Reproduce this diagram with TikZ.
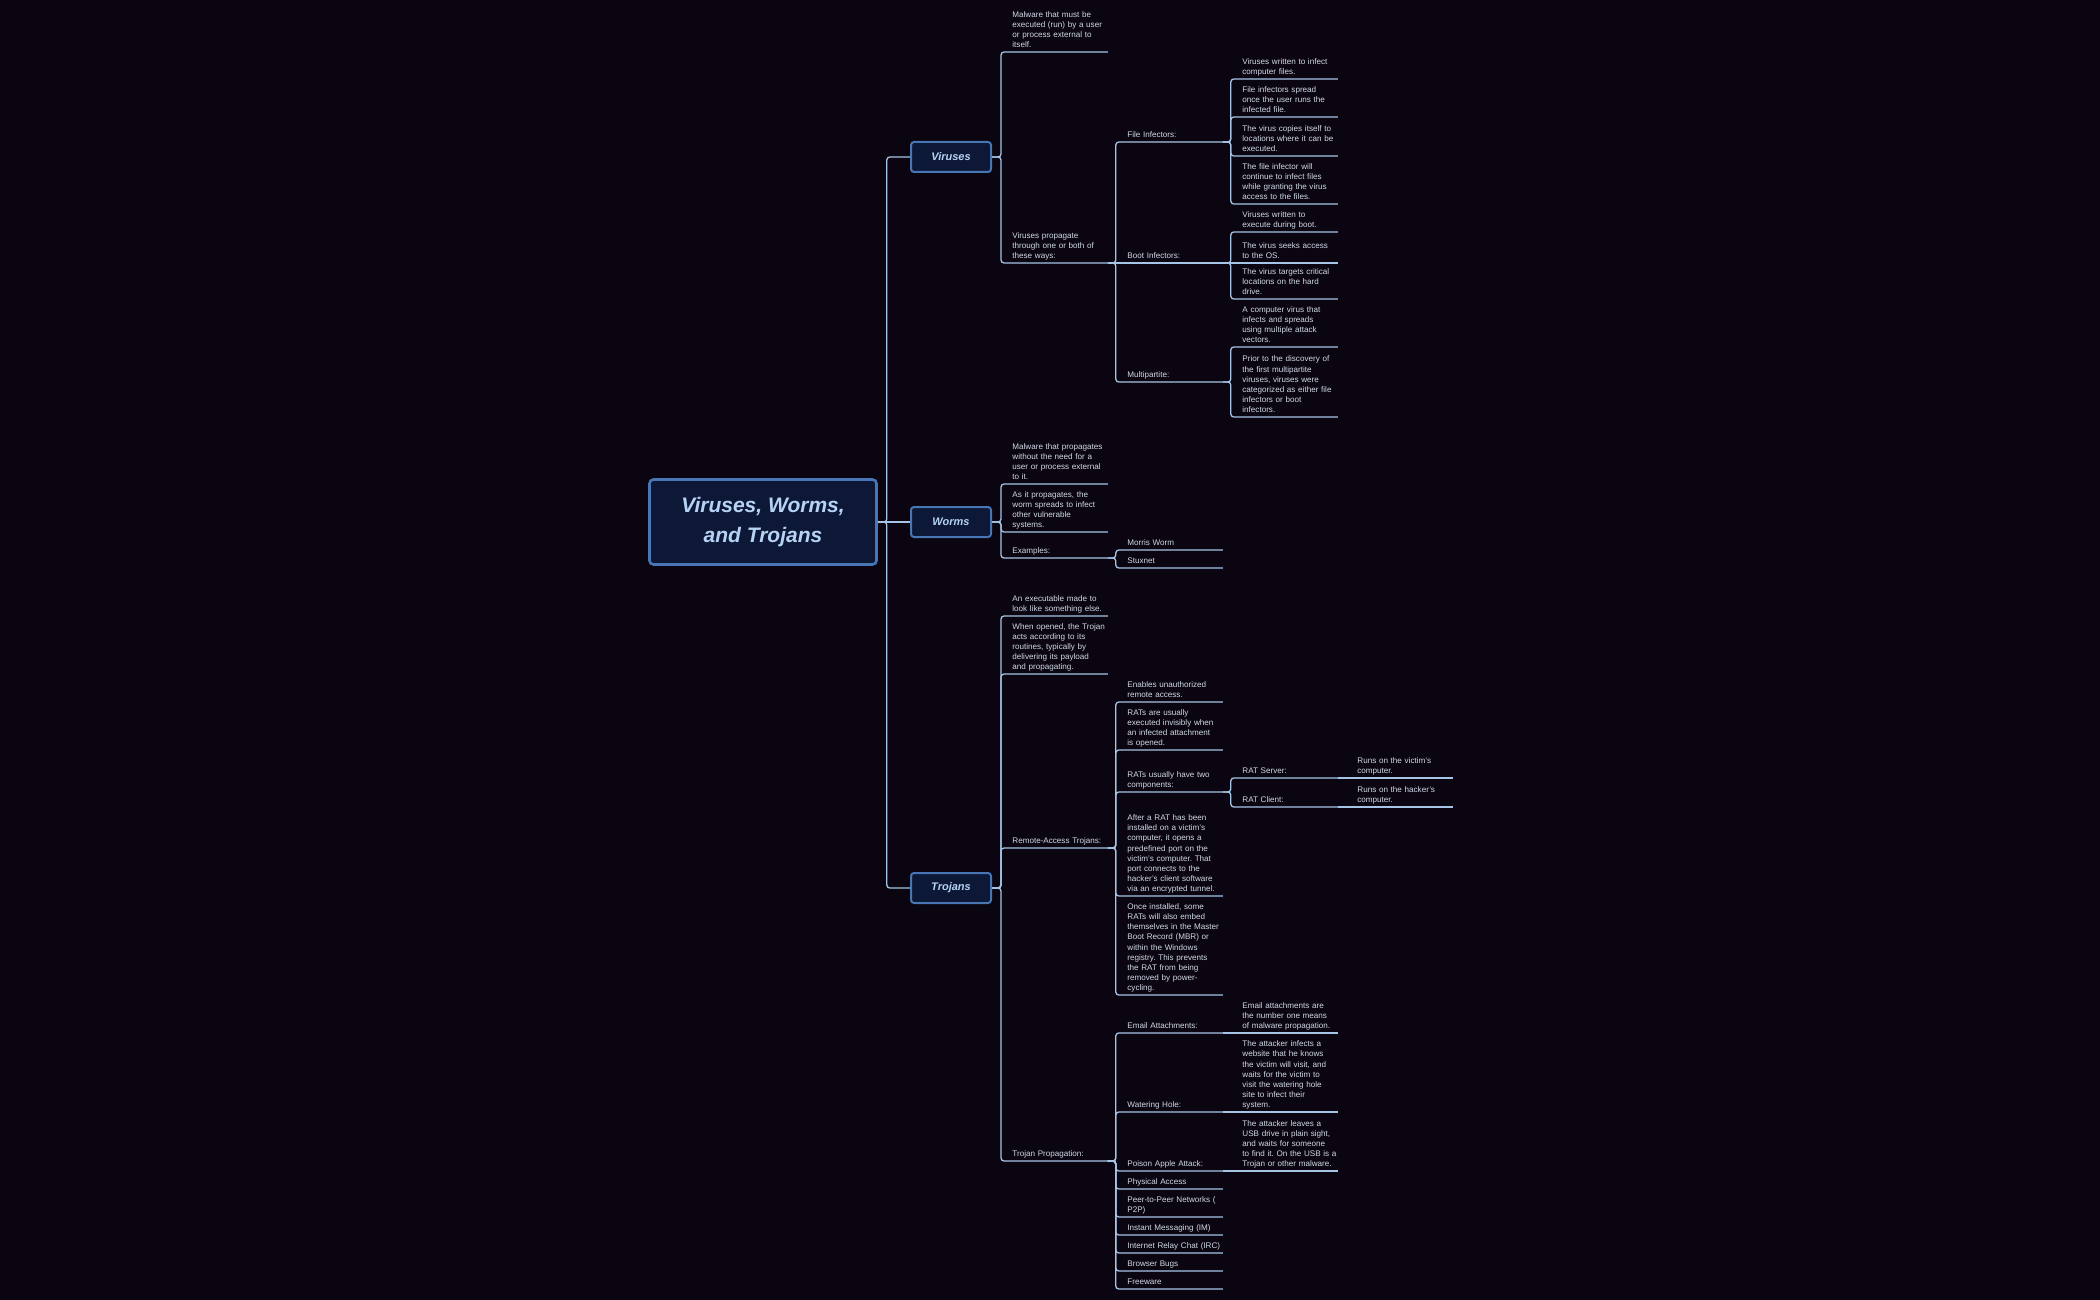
\documentclass[tikz,border=0pt]{standalone}
\usepackage{fontspec}
\setmainfont{Liberation Sans}
\usepackage{tikz}
\usetikzlibrary{positioning}
\definecolor{nightbg}{RGB}{10,5,16}
\definecolor{boxfill}{RGB}{13,23,54}
\definecolor{boxedge}{RGB}{72,118,180}
\definecolor{linkblue}{RGB}{166,196,230}
\definecolor{titleblue}{RGB}{182,211,245}
\definecolor{notetext}{RGB}{210,218,232}
\frenchspacing

\begin{document}
\begin{tikzpicture}[x=0.5pt, y=-0.5pt,
  every node/.style={font=\fontsize{4.05}{5.1}\selectfont, text=notetext},
  topic/.style={draw=boxedge, fill=boxfill, line width=1.3pt, rounded corners=2pt,
                minimum width=113.5pt, minimum height=42.5pt, align=center, text=titleblue,
                font=\fontsize{10.5}{15}\selectfont\bfseries\itshape},
  branch/.style={draw=boxedge, fill=boxfill, line width=1pt, rounded corners=1.5pt,
                 minimum width=40pt, minimum height=15pt, text=titleblue,
                 font=\fontsize{5.5}{6.5}\selectfont\bfseries\itshape},
  note/.style={anchor=south west, inner xsep=0pt, inner ysep=0.3pt,
               text width=47.5pt, align=left, execute at end node=\strut},
  link/.style={draw=linkblue, line width=0.65pt, rounded corners=1.5pt}
]
\fill[nightbg] (0,0) rectangle (2100,1300);

\node[topic] (root) at (763,522) {Viruses, Worms,\\and Trojans};
\node[branch] (viruses) at (951,157) {Viruses};
\node[branch] (worms) at (951,522) {Worms};
\node[branch] (trojans) at (951,888) {Trojans};

\node[note] (v1) at (1012,52) {Malware that must be\\executed (run) by a user\\or process external to\\itself.};
\node[note] (v2) at (1012,263) {Viruses propagate\\through one or both of\\these ways:};
\node[note] (fi) at (1127,142) {File Infectors:};
\node[note] (bi) at (1127,263) {Boot Infectors:};
\node[note] (mp) at (1127,382) {Multipartite:};
\node[note] (fi1) at (1242,79) {Viruses written to infect\\computer files.};
\node[note] (fi2) at (1242,117) {File infectors spread\\once the user runs the\\infected file.};
\node[note] (fi3) at (1242,156) {The virus copies itself to\\locations where it can be\\executed.};
\node[note] (fi4) at (1242,204) {The file infector will\\continue to infect files\\while granting the virus\\access to the files.};
\node[note] (bi1) at (1242,232) {Viruses written to\\execute during boot.};
\node[note] (bi2) at (1242,263) {The virus seeks access\\to the OS.};
\node[note] (bi3) at (1242,299) {The virus targets critical\\locations on the hard\\drive.};
\node[note] (mp1) at (1242,347) {A computer virus that\\infects and spreads\\using multiple attack\\vectors.};
\node[note] (mp2) at (1242,417) {Prior to the discovery of\\the first multipartite\\viruses, viruses were\\categorized as either file\\infectors or boot\\infectors.};

\node[note] (w1) at (1012,484) {Malware that propagates\\without the need for a\\user or process external\\to it.};
\node[note] (w2) at (1012,532) {As it propagates, the\\worm spreads to infect\\other vulnerable\\systems.};
\node[note] (w3) at (1012,558) {Examples:};
\node[note] (w3a) at (1127,550) {Morris Worm};
\node[note] (w3b) at (1127,568) {Stuxnet};

\node[note] (t1) at (1012,616) {An executable made to\\look like something else.};
\node[note] (t2) at (1012,674) {When opened, the Trojan\\acts according to its\\routines, typically by\\delivering its payload\\and propagating.};
\node[note] (t3) at (1012,848) {Remote-Access Trojans:};
\node[note] (t4) at (1012,1161) {Trojan Propagation:};
\node[note] (r1) at (1127,702) {Enables unauthorized\\remote access.};
\node[note] (r2) at (1127,750) {RATs are usually\\executed invisibly when\\an infected attachment\\is opened.};
\node[note] (r3) at (1127,792) {RATs usually have two\\components:};
\node[note] (r4) at (1127,896) {After a RAT has been\\installed on a victim's\\computer, it opens a\\predefined port on the\\victim's computer. That\\port connects to the\\hacker's client software\\via an encrypted tunnel.};
\node[note] (r5) at (1127,995) {Once installed, some\\RATs will also embed\\themselves in the Master\\Boot Record (MBR) or\\within the Windows\\registry. This prevents\\the RAT from being\\removed by power-\\cycling.};
\node[note] (rs) at (1242,778) {RAT Server:};
\node[note] (rc) at (1242,807) {RAT Client:};
\node[note] (rs1) at (1357,778) {Runs on the victim's\\computer.};
\node[note] (rc1) at (1357,807) {Runs on the hacker's\\computer.};
\node[note] (p1) at (1127,1033) {Email Attachments:};
\node[note] (p2) at (1127,1112) {Watering Hole:};
\node[note] (p3) at (1127,1171) {Poison Apple Attack:};
\node[note] (p4) at (1127,1189) {Physical Access};
\node[note] (p5) at (1127,1217) {Peer-to-Peer Networks (\\P2P)};
\node[note] (p6) at (1127,1235) {Instant Messaging (IM)};
\node[note] (p7) at (1127,1253) {Internet Relay Chat (IRC)};
\node[note] (p8) at (1127,1271) {Browser Bugs};
\node[note] (p9) at (1127,1289) {Freeware};
\node[note] (p1a) at (1242,1033) {Email attachments are\\the number one means\\of malware propagation.};
\node[note] (p2a) at (1242,1112) {The attacker infects a\\website that he knows\\the victim will visit, and\\waits for the victim to\\visit the watering hole\\site to infect their\\system.};
\node[note] (p3a) at (1242,1171) {The attacker leaves a\\USB drive in plain sight,\\and waits for someone\\to find it. On the USB is a\\Trojan or other malware.};

\foreach \b in {viruses,trojans}
  \draw[link] (root.east) -- ++(9,0) |- (\b.west);
\draw[link] (root.east) -- (worms.west);

\foreach \c in {v1,v2}
  \draw[link] (viruses.east) -- ++(9,0) |- (\c.south east);
\foreach \c in {fi,mp}
  \draw[link] (v2.south east) -- ++(8,0) |- (\c.south east);
\draw[link] (v2.south east) -- (bi.south east);
\foreach \c in {fi1,fi2,fi3,fi4}
  \draw[link] (fi.south east) -- ++(8,0) |- (\c.south east);
\foreach \c in {bi1,bi3}
  \draw[link] (bi.south east) -- ++(8,0) |- (\c.south east);
\draw[link] (bi.south east) -- (bi2.south east);
\foreach \c in {mp1,mp2}
  \draw[link] (mp.south east) -- ++(8,0) |- (\c.south east);

\foreach \c in {w1,w2,w3}
  \draw[link] (worms.east) -- ++(9,0) |- (\c.south east);
\foreach \c in {w3a,w3b}
  \draw[link] (w3.south east) -- ++(8,0) |- (\c.south east);

\foreach \c in {t1,t2,t3,t4}
  \draw[link] (trojans.east) -- ++(9,0) |- (\c.south east);
\foreach \c in {r1,r2,r3,r4,r5}
  \draw[link] (t3.south east) -- ++(8,0) |- (\c.south east);
\foreach \c in {rs,rc}
  \draw[link] (r3.south east) -- ++(8,0) |- (\c.south east);
\draw[link] (rs.south east) -- (rs1.south east);
\draw[link] (rc.south east) -- (rc1.south east);
\foreach \c in {p1,p2,p3,p4,p5,p6,p7,p8,p9}
  \draw[link] (t4.south east) -- ++(8,0) |- (\c.south east);
\draw[link] (p1.south east) -- (p1a.south east);
\draw[link] (p2.south east) -- (p2a.south east);
\draw[link] (p3.south east) -- (p3a.south east);
\end{tikzpicture}
\end{document}
